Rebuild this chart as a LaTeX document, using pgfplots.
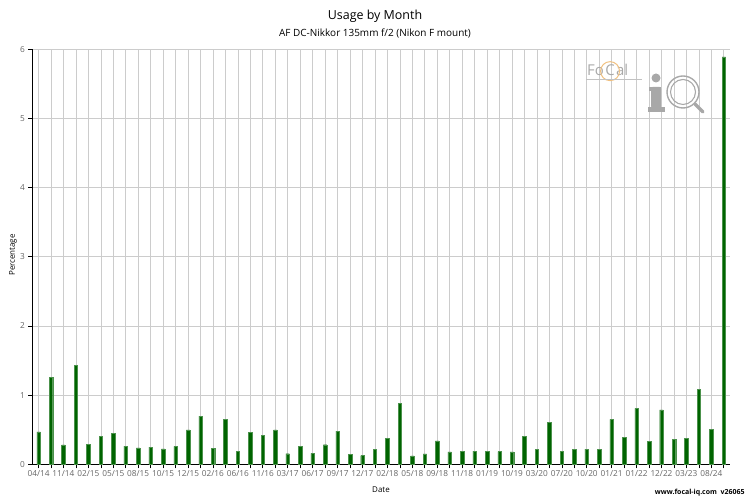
\documentclass[border=0pt]{standalone}
\usepackage{fontspec}
\setmainfont{Open Sans}
\usepackage{pgfplots}
\pgfplotsset{compat=1.18}
\definecolor{bargreen}{HTML}{006400}
\definecolor{gridgray}{HTML}{CCCCCC}
\definecolor{ticktext}{HTML}{666666}
\definecolor{logogray}{HTML}{A8A8A8}
\definecolor{logoorange}{HTML}{F0C080}

\pgfplotstableread{
idx pct
0 0.467
1 1.262
2 0.279
3 1.43
4 0.289
5 0.409
6 0.452
7 0.264
8 0.236
9 0.25
10 0.222
11 0.26
12 0.496
13 0.698
14 0.231
15 0.65
16 0.192
17 0.465
18 0.423
19 0.496
20 0.153
21 0.264
22 0.159
23 0.283
24 0.481
25 0.139
26 0.125
27 0.217
28 0.38
29 0.886
30 0.12
31 0.149
32 0.337
33 0.178
34 0.183
35 0.192
36 0.192
37 0.183
38 0.178
39 0.4
40 0.212
41 0.607
42 0.192
43 0.221
44 0.221
45 0.221
46 0.65
47 0.39
48 0.809
49 0.327
50 0.785
51 0.361
52 0.38
53 1.088
54 0.51
55 5.89
}\usage

\begin{document}
\begin{tikzpicture}[x=1bp,y=1bp]
\path (0,0) rectangle (750,500);
\begin{axis}[
    at={(32.3bp,35.7bp)}, anchor=south west,
    scale only axis,
    width=697.7bp, height=415bp,
    xmin=-0.5, xmax=55.5,
    ymin=0, ymax=6,
    axis x line*=bottom, axis y line*=left,
    axis line style={black, line width=0.9pt},
    xtick={0,...,55},
    xticklabels={04/14,{},11/14,{},02/15,{},05/15,{},08/15,{},10/15,{},12/15,{},02/16,{},06/16,{},11/16,{},03/17,{},06/17,{},09/17,{},12/17,{},02/18,{},05/18,{},09/18,{},11/18,{},01/19,{},10/19,{},03/20,{},07/20,{},10/20,{},01/21,{},01/22,{},12/22,{},03/23,{},08/24,{}},
    ytick={0,1,2,3,4,5,6},
    tick align=outside,
    major tick length=4bp,
    tick style={black, line width=0.6pt},
    grid=major,
    major grid style={gridgray, line width=0.6pt},
    ticklabel style={font=\fontsize{8.3}{9}\selectfont, text=ticktext},
    /pgf/number format/assume math mode=true,
    xticklabel style={yshift=1bp},
    clip=false,
]
\addplot[ybar, bar width=3.5bp, fill=bargreen, draw=bargreen!70!white, line width=0.4pt] table[x=idx, y=pct] {\usage};
\end{axis}
% titles and labels
\node[font=\fontsize{12.5}{14}\selectfont] at (375,484) {Usage by Month};
\node[font=\fontsize{10}{12}\selectfont] at (375,467) {AF DC-Nikkor 135mm f/2 (Nikon F mount)};
\node[font=\fontsize{8}{9}\selectfont, rotate=90] at (13,245) {Percentage};
\node[font=\fontsize{8}{9}\selectfont] at (381,10) {Date};
\node[font=\bfseries\fontsize{7}{8}\selectfont, anchor=east] at (748,7) {www.focal-iq.com\ \ v26065};
% logo
\begin{scope}[every node/.style={font=\fontsize{15}{16}\selectfont, text=logogray, anchor=base west, inner sep=0}]
\node (fo) at (587,424) {Fo};
\node (cc) at ([xshift=1bp]fo.base east) {C};
\node at ([xshift=1bp]cc.base east) {al};
\end{scope}
\draw[logoorange, line width=1pt] ([yshift=-0.5bp]cc.center) circle (9.5);
\draw[logogray!70, line width=0.4pt] (586,421) -- (642,421);
% "i" of the logo
\fill[logogray, rounded corners=1.5bp] (651,413) rectangle (661,392);
\fill[logogray] (648,388) rectangle (665,393);
\fill[logogray] (649,413) rectangle (661,409);
\fill[logogray] (656,422) circle (4.5);
% magnifier
\draw[logogray, line width=1.4pt] (683,408) circle (16);
\draw[logogray, line width=1.1pt] (683,408) circle (12.5);
\draw[logogray, line width=3.5pt, line cap=round] (695,396) -- (703,388);
\end{tikzpicture}
\end{document}
